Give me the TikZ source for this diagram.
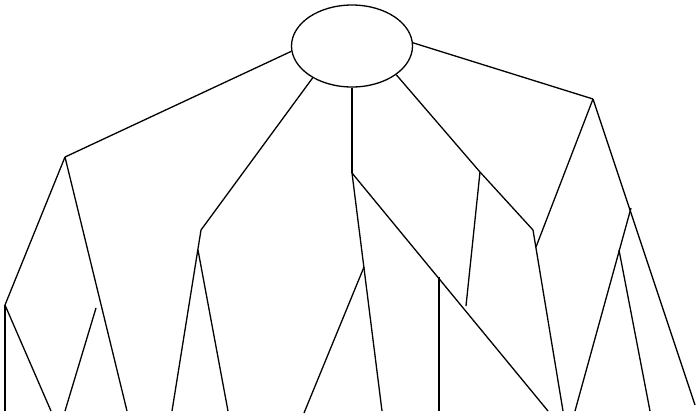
\documentclass[tikz,border=0pt]{standalone}
\usetikzlibrary{shapes.geometric}
\begin{document}
\begin{tikzpicture}[x=1pt,y=-1pt,
  edge/.style={line width=1.3pt,black},
  root/.style={draw,ellipse,line width=1.3pt,minimum width=121pt,minimum height=82pt,inner sep=0pt}]
\useasboundingbox (0,0) rectangle (696,416);
\node[root] (top) at (352,46) {};
% left subtree
\coordinate (L) at (65,157);
\coordinate (LL) at (5,305);
\coordinate (LR) at (96,308);
\coordinate (b1) at (5,411);
\coordinate (b2) at (51,411);
\coordinate (b3) at (65,411);
\coordinate (b4) at (127,411);
\draw[edge] (top.185) -- (L);
\draw[edge] (L) -- (LL);
\draw[edge] (L) -- (b4);
\draw[edge] (LL) -- (b1);
\draw[edge] (LL) -- (b2);
\draw[edge] (LR) -- (b3);
% middle-left
\coordinate (M) at (201,230);
\coordinate (Mb) at (198,250);
\coordinate (b5) at (172,411);
\coordinate (b6) at (228,411);
\draw[edge] (top.219) -- (M);
\draw[edge] (M) -- (b5);
\draw[edge] (Mb) -- (b6);
% center
\coordinate (C) at (352,173);
\coordinate (Cm) at (364,267);
\coordinate (b7) at (304,413);
\coordinate (b8) at (382,411);
\coordinate (b9) at (548,411);
\coordinate (V) at (439,277);
\coordinate (b14) at (439,411);
\draw[edge] (top.south) -- (C);
\draw[edge] (C) -- (b8);
\draw[edge] (Cm) -- (b7);
\draw[edge] (C) -- (b9);
\draw[edge] (V) -- (b14);
% center-right
\coordinate (D) at (480,172);
\coordinate (Dend) at (466,306);
\coordinate (E) at (533,230);
\coordinate (Eb) at (536,247);
\coordinate (b10) at (563,411);
\draw[edge] (top.327) -- (D) -- (E);
\draw[edge] (D) -- (Dend);
\draw[edge] (E) -- (b10);
% right subtree
\coordinate (R) at (593,99);
\coordinate (R2) at (631,208);
\coordinate (R3) at (619,250);
\coordinate (b11) at (695,405);
\coordinate (b12) at (575,411);
\coordinate (b13) at (650,411);
\draw[edge] (top.3) -- (R);
\draw[edge] (R) -- (Eb);
\draw[edge] (R) -- (b11);
\draw[edge] (R2) -- (b12);
\draw[edge] (R3) -- (b13);
\end{tikzpicture}
\end{document}
